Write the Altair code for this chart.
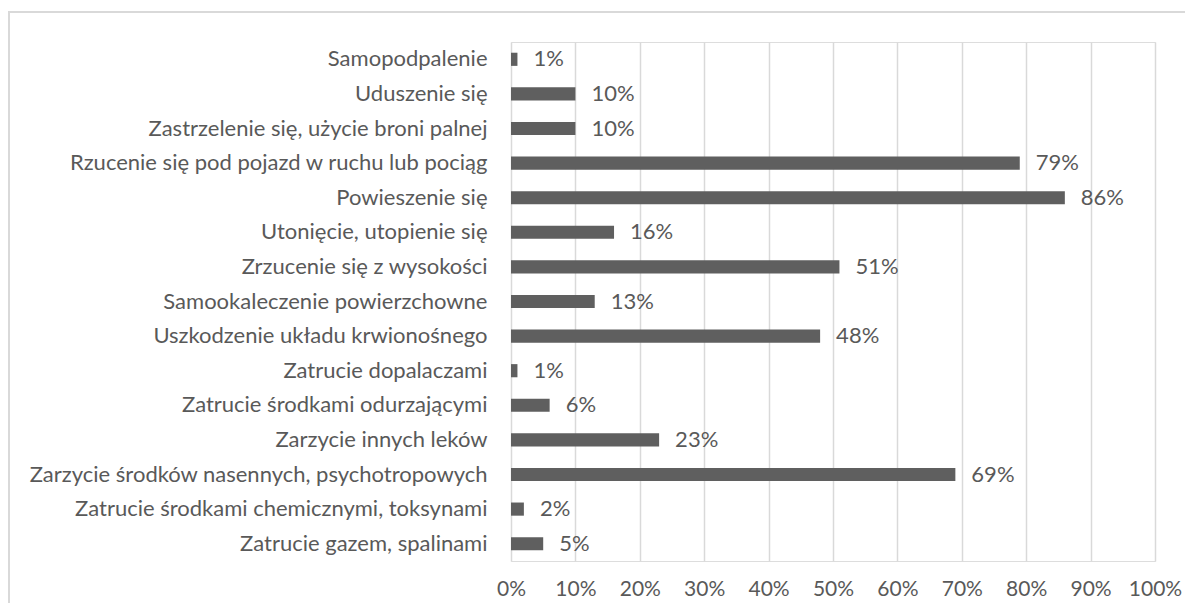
import altair as alt
import pandas as pd

categories = [
    "Samopodpalenie",
    "Uduszenie się",
    "Zastrzelenie się, użycie broni palnej",
    "Rzucenie się pod pojazd w ruchu lub pociąg",
    "Powieszenie się",
    "Utonięcie, utopienie się",
    "Zrzucenie się z wysokości",
    "Samookaleczenie powierzchowne",
    "Uszkodzenie układu krwionośnego",
    "Zatrucie dopalaczami",
    "Zatrucie środkami odurzającymi",
    "Zarzycie innych leków",
    "Zarzycie środków nasennych, psychotropowych",
    "Zatrucie środkami chemicznymi, toksynami",
    "Zatrucie gazem, spalinami",
]
values = [0.01, 0.10, 0.10, 0.79, 0.86, 0.16, 0.51, 0.13, 0.48, 0.01, 0.06, 0.23, 0.69, 0.02, 0.05]
x_ticks = [i / 10 for i in range(11)]

df = pd.DataFrame({"cat": categories, "val": values})

FONT = "Lato"
TXT = "#595959"
FS = 22

y_enc = alt.Y("cat:N", sort=categories, title=None,
              scale=alt.Scale(paddingInner=0.62, paddingOuter=0.31),
              axis=alt.Axis(labelFontSize=FS, labelColor=TXT, labelFont=FONT,
                            ticks=False, domain=False, labelPadding=24,
                            labelLimit=600))
x_enc = alt.X("val:Q", title=None,
              scale=alt.Scale(domain=[0, 1], nice=False),
              axis=alt.Axis(values=x_ticks, format=".0%", labelFontSize=21,
                            labelColor=TXT, labelFont=FONT, ticks=False,
                            labelOverlap=False, labelBound=False, labelFlush=False,
                            domain=False, grid=True, gridColor="#d9d9d9",
                            gridWidth=1.5, labelPadding=17))

bars = alt.Chart(df).mark_bar(color="#5f5f5f").encode(x=x_enc, y=y_enc)
labels = alt.Chart(df).mark_text(align="left", dx=16, fontSize=FS, font=FONT,
                                 color=TXT).encode(
    x="val:Q", y=alt.Y("cat:N", sort=categories), text=alt.Text("val:Q", format=".0%"))

frame = alt.Chart(df).mark_rect(fill=None, stroke="#d9d9d9", strokeWidth=1.5).encode(
    x=alt.value(-502), x2=alt.value(720), y=alt.value(-30), y2=alt.value(660))

chart = alt.layer(frame, bars, labels).properties(
    width=644, height=519,
    autosize=alt.AutoSizeParams(type="none"),
    padding={"left": 503, "top": 34, "right": 30, "bottom": 42},
).configure_view(stroke=None).configure(background="white")

chart.save("out.html", embed_options={"renderer": "svg", "actions": False})
